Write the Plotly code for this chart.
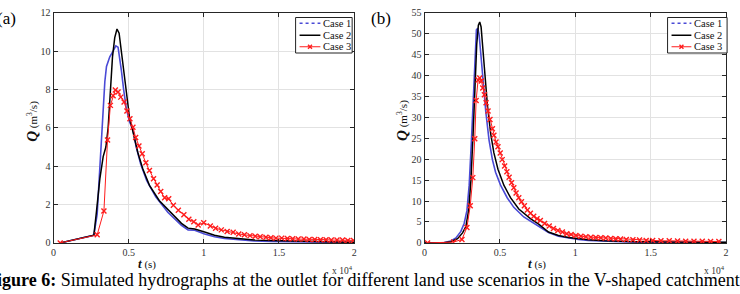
import plotly.graph_objects as go

# ---------------- data (t in units of 10^4 s, Q in m^3/s) ----------------
# Panel (a)
t_a_case1 = [0.044, 0.268, 0.29, 0.305, 0.319, 0.33, 0.341, 0.352, 0.374, 0.396, 0.414, 0.429, 0.44, 0.451,
             0.466, 0.484, 0.506, 0.528, 0.55, 0.58, 0.62, 0.68, 0.76, 0.785, 0.851, 0.895, 0.939, 1.005,
             1.071, 1.137, 1.225, 1.335, 1.445, 1.665, 2.0]
q_a_case1 = [0.0, 0.4, 1.5, 3.5, 5.7, 7.3, 8.4, 9.2, 9.7, 10.0, 10.27, 10.2, 9.7, 9.0,
             8.0, 7.0, 6.3, 5.9, 5.0, 4.1, 3.25, 2.4, 1.6, 1.4, 0.92, 0.68, 0.66, 0.47,
             0.32, 0.23, 0.16, 0.1, 0.07, 0.04, 0.02]

t_a_case2 = [0.044, 0.268, 0.286, 0.308, 0.33, 0.348, 0.363, 0.378, 0.392, 0.407, 0.422, 0.436, 0.451,
             0.466, 0.484, 0.506, 0.528, 0.561, 0.594, 0.638, 0.704, 0.785, 0.851, 0.895, 0.939, 1.005,
             1.071, 1.137, 1.225, 1.335, 1.445, 1.665, 2.0]
q_a_case2 = [0.0, 0.4, 1.68, 3.35, 4.5, 5.0, 6.0, 8.2, 9.7, 10.7, 11.15, 10.93, 10.0,
             8.85, 7.7, 6.5, 5.8, 4.7, 3.85, 3.0, 2.2, 1.52, 1.02, 0.77, 0.72, 0.57,
             0.4, 0.3, 0.22, 0.15, 0.12, 0.07, 0.03]

t_a_case3 = [0.044, 0.29, 0.335, 0.359, 0.378, 0.396, 0.411, 0.429, 0.447, 0.469, 0.488, 0.508, 0.528, 0.546,
             0.568, 0.59, 0.614, 0.638, 0.665, 0.689, 0.713, 0.739, 0.766, 0.797, 0.83, 0.867, 0.9, 0.933,
             0.962, 0.999, 1.043, 1.078, 1.116, 1.155, 1.195, 1.232, 1.27, 1.307, 1.342, 1.375, 1.413,
             1.446, 1.48, 1.518, 1.556, 1.591, 1.628, 1.666, 1.701, 1.738, 1.776, 1.813, 1.848, 1.886,
             1.923, 1.958, 1.996]
q_a_case3 = [0.0, 0.42, 1.67, 5.37, 7.17, 7.67, 7.97, 7.87, 7.6, 7.35, 6.88, 6.47, 6.03, 5.5,
             5.05, 4.65, 4.18, 3.77, 3.35, 3.02, 2.68, 2.35, 2.3, 1.96, 1.7, 1.47, 1.23, 1.1,
             0.93, 1.05, 0.88, 0.77, 0.68, 0.6, 0.55, 0.47, 0.42, 0.38, 0.35, 0.32, 0.3,
             0.27, 0.25, 0.25, 0.23, 0.22, 0.2, 0.2, 0.18, 0.18, 0.17, 0.17, 0.15, 0.15,
             0.15, 0.13, 0.13]

# Panel (b)
t_b_case1 = [0.0, 0.13, 0.175, 0.208, 0.241, 0.263, 0.281, 0.296, 0.311, 0.325, 0.336, 0.344, 0.353, 0.362,
             0.373, 0.388, 0.406, 0.428, 0.45, 0.471, 0.504, 0.548, 0.592, 0.658, 0.746, 0.822, 0.888,
             0.954, 1.02, 1.086, 1.195, 1.305, 1.414, 1.634, 2.0]
q_b_case1 = [0.0, 0.1, 0.46, 1.2, 2.75, 4.7, 7.7, 13.8, 24.5, 35.2, 47.4, 50.9, 51.3, 49.7,
             45.2, 38.3, 31.4, 24.5, 19.9, 16.9, 13.8, 10.8, 8.5, 6.2, 4.2, 2.5, 1.6,
             1.15, 0.85, 0.6, 0.4, 0.28, 0.2, 0.13, 0.08]

t_b_case2 = [0.0, 0.13, 0.175, 0.219, 0.252, 0.274, 0.292, 0.307, 0.322, 0.336, 0.346, 0.357, 0.366, 0.375,
             0.386, 0.399, 0.417, 0.439, 0.46, 0.487, 0.526, 0.57, 0.625, 0.702, 0.757, 0.822, 0.888,
             0.954, 1.02, 1.086, 1.195, 1.305, 1.414, 1.634, 2.0]
q_b_case2 = [0.0, 0.05, 0.3, 1.0, 2.4, 3.9, 7.7, 14.6, 26.0, 37.5, 47.4, 52.0, 52.8, 51.6,
             46.7, 39.8, 32.9, 26.0, 21.5, 17.6, 13.8, 10.8, 8.1, 5.8, 4.5, 2.6, 1.76,
             1.3, 1.0, 0.76, 0.53, 0.38, 0.3, 0.23, 0.15]

t_b_case3 = [0.02, 0.193, 0.248, 0.281, 0.303, 0.32, 0.333, 0.342, 0.355, 0.366, 0.377, 0.386, 0.397, 0.408,
             0.421, 0.434, 0.45, 0.46, 0.474, 0.487, 0.502, 0.515, 0.531, 0.546, 0.561, 0.577, 0.592,
             0.607, 0.625, 0.643, 0.662, 0.682, 0.702, 0.724, 0.746, 0.768, 0.796, 0.827, 0.855, 0.884,
             0.914, 0.943, 0.972, 1.004, 1.037, 1.07, 1.103, 1.136, 1.169, 1.202, 1.235, 1.268, 1.3,
             1.338, 1.382, 1.426, 1.47, 1.513, 1.568, 1.623, 1.678, 1.732, 1.787, 1.842, 1.897, 1.952]
q_b_case3 = [0.0, 0.2, 0.84, 3.7, 8.9, 15.6, 24.9, 34.0, 38.9, 39.4, 38.7, 37.0, 35.4, 33.5,
             31.5, 29.5, 27.3, 25.7, 24.1, 23.0, 21.5, 19.9, 18.4, 17.0, 15.7, 14.4, 13.2,
             11.9, 10.8, 9.85, 8.86, 7.87, 7.1, 6.4, 5.8, 5.35, 4.66, 4.05, 3.44, 2.98,
             2.6, 2.2, 1.99, 1.76, 1.6, 1.45, 1.37, 1.3, 1.22, 1.15, 1.07, 0.99, 0.92,
             0.84, 0.78, 0.7, 0.6, 0.6, 0.5, 0.5, 0.45, 0.4, 0.4, 0.38, 0.36, 0.35]

case_names = ["Case 1", "Case 2", "Case 3"]
x_ticks = [0, 0.5, 1, 1.5, 2]
y_ticks_a = [0, 2, 4, 6, 8, 10, 12]
y_ticks_b = [0, 5, 10, 15, 20, 25, 30, 35, 40, 45, 50, 55]

# ---------------- styling ----------------
W, H = 740, 294
SERIF = "Liberation Serif, Times New Roman, Times, serif"
C_BLUE = "#4a4ad6"
C_BLACK = "#000000"
C_RED = "#ff1c1c"
AX = "#262626"


def px(x):
    return x / W


def py(y):
    return 1 - y / H


fig = go.Figure()

for t, q, xa, ya in [(t_a_case1, q_a_case1, "x", "y"), (t_b_case1, q_b_case1, "x2", "y2")]:
    fig.add_trace(go.Scatter(x=t, y=q, xaxis=xa, yaxis=ya, mode="lines", name=case_names[0],
                             line=dict(color=C_BLUE, width=1.6), showlegend=False))
for t, q, xa, ya in [(t_a_case2, q_a_case2, "x", "y"), (t_b_case2, q_b_case2, "x2", "y2")]:
    fig.add_trace(go.Scatter(x=t, y=q, xaxis=xa, yaxis=ya, mode="lines", name=case_names[1],
                             line=dict(color=C_BLACK, width=1.5), showlegend=False))
for t, q, xa, ya in [(t_a_case3, q_a_case3, "x", "y"), (t_b_case3, q_b_case3, "x2", "y2")]:
    fig.add_trace(go.Scatter(x=t, y=q, xaxis=xa, yaxis=ya, mode="lines+markers", name=case_names[2],
                             line=dict(color=C_RED, width=1),
                             marker=dict(symbol="x-thin", size=5, color=C_RED,
                                         line=dict(color=C_RED, width=1.4)),
                             showlegend=False))

axis_common = dict(showline=True, linecolor=AX, linewidth=1, mirror="ticks", ticks="inside",
                   ticklen=4, tickcolor=AX, tickwidth=1, showgrid=True, gridcolor="#e2e2e2",
                   gridwidth=1, zeroline=False,
                   tickfont=dict(family=SERIF, size=10, color="#333333"))

fig.update_layout(
    width=W, height=H, margin=dict(l=0, r=0, t=0, b=0),
    paper_bgcolor="white", plot_bgcolor="white", showlegend=False,
    xaxis=dict(domain=[px(51), px(354)], range=[0, 2], tickvals=x_ticks, anchor="y", **axis_common),
    yaxis=dict(domain=[py(247), py(7)], range=[0, 12], tickvals=y_ticks_a, anchor="x", **axis_common),
    xaxis2=dict(domain=[px(425), px(729)], range=[0, 2], tickvals=x_ticks, anchor="y2", **axis_common),
    yaxis2=dict(domain=[py(247), py(7)], range=[0, 55], tickvals=y_ticks_b, anchor="x2", **axis_common),
)

ann = []
shapes = []


def note(x, y, text, size, xanchor="center", yanchor="middle", color="#111111", **kw):
    ann.append(dict(x=px(x), y=py(y), xref="paper", yref="paper", showarrow=False, text=text,
                    xanchor=xanchor, yanchor=yanchor,
                    font=dict(family=SERIF, size=size, color=color), **kw))


# axis titles and multipliers
for xc, yc in [(29, 120), (402, 119)]:
    note(xc, yc, "<b><i>Q</i></b><span style='font-size:11px'> (m<sup>3</sup>/s)</span>", 15,
         textangle=-90)
for xc in [145, 538]:
    note(xc, 268, "<b><i>t</i></b><span style='font-size:11px'> (s)</span>", 13)
for xr in [355, 730]:
    note(xr, 275, "x 10<sup>4</sup>", 9.5, xanchor="right", color="#333333")

# panel labels
note(15, 13, "(a)", 17, xanchor="right", color="black")
note(369, 13, "(b)", 17, xanchor="left", color="black")

# caption
note(745, 286, "<b>Figure 6:</b> Simulated hydrographs at the outlet for different land use "
               "scenarios in the V-shaped catchment", 18, xanchor="right", color="black")

# legends (drawn boxes)
for (bx0, bx1, lx0, lx1) in [(295, 352, 299, 320), (670, 730, 674, 694)]:
    shapes.append(dict(type="rect", xref="paper", yref="paper", x0=px(bx0), x1=px(bx1),
                       y0=py(49), y1=py(12), line=dict(color="#222222", width=1), fillcolor="white",
                       layer="above"))
    rows = [(18, C_BLUE, "dot"), (30.5, C_BLACK, "solid"), (42.5, C_RED, "solid")]
    for i, (yy, col, dash) in enumerate(rows):
        shapes.append(dict(type="line", xref="paper", yref="paper", x0=px(lx0), x1=px(lx1),
                           y0=py(yy), y1=py(yy),
                           line=dict(color=col, width=1.5 if i < 2 else 1, dash=dash),
                           layer="above"))
        note(lx1 + 1, yy, case_names[i], 10.5, xanchor="left")
    mx = (lx0 + lx1) / 2
    for dy in (-2, 2):
        shapes.append(dict(type="line", xref="paper", yref="paper", x0=px(mx - 2), x1=px(mx + 2),
                           y0=py(42.5 - dy), y1=py(42.5 + dy), line=dict(color=C_RED, width=1.4),
                           layer="above"))

fig.update_layout(annotations=ann, shapes=shapes)
fig.write_html("out.html")
